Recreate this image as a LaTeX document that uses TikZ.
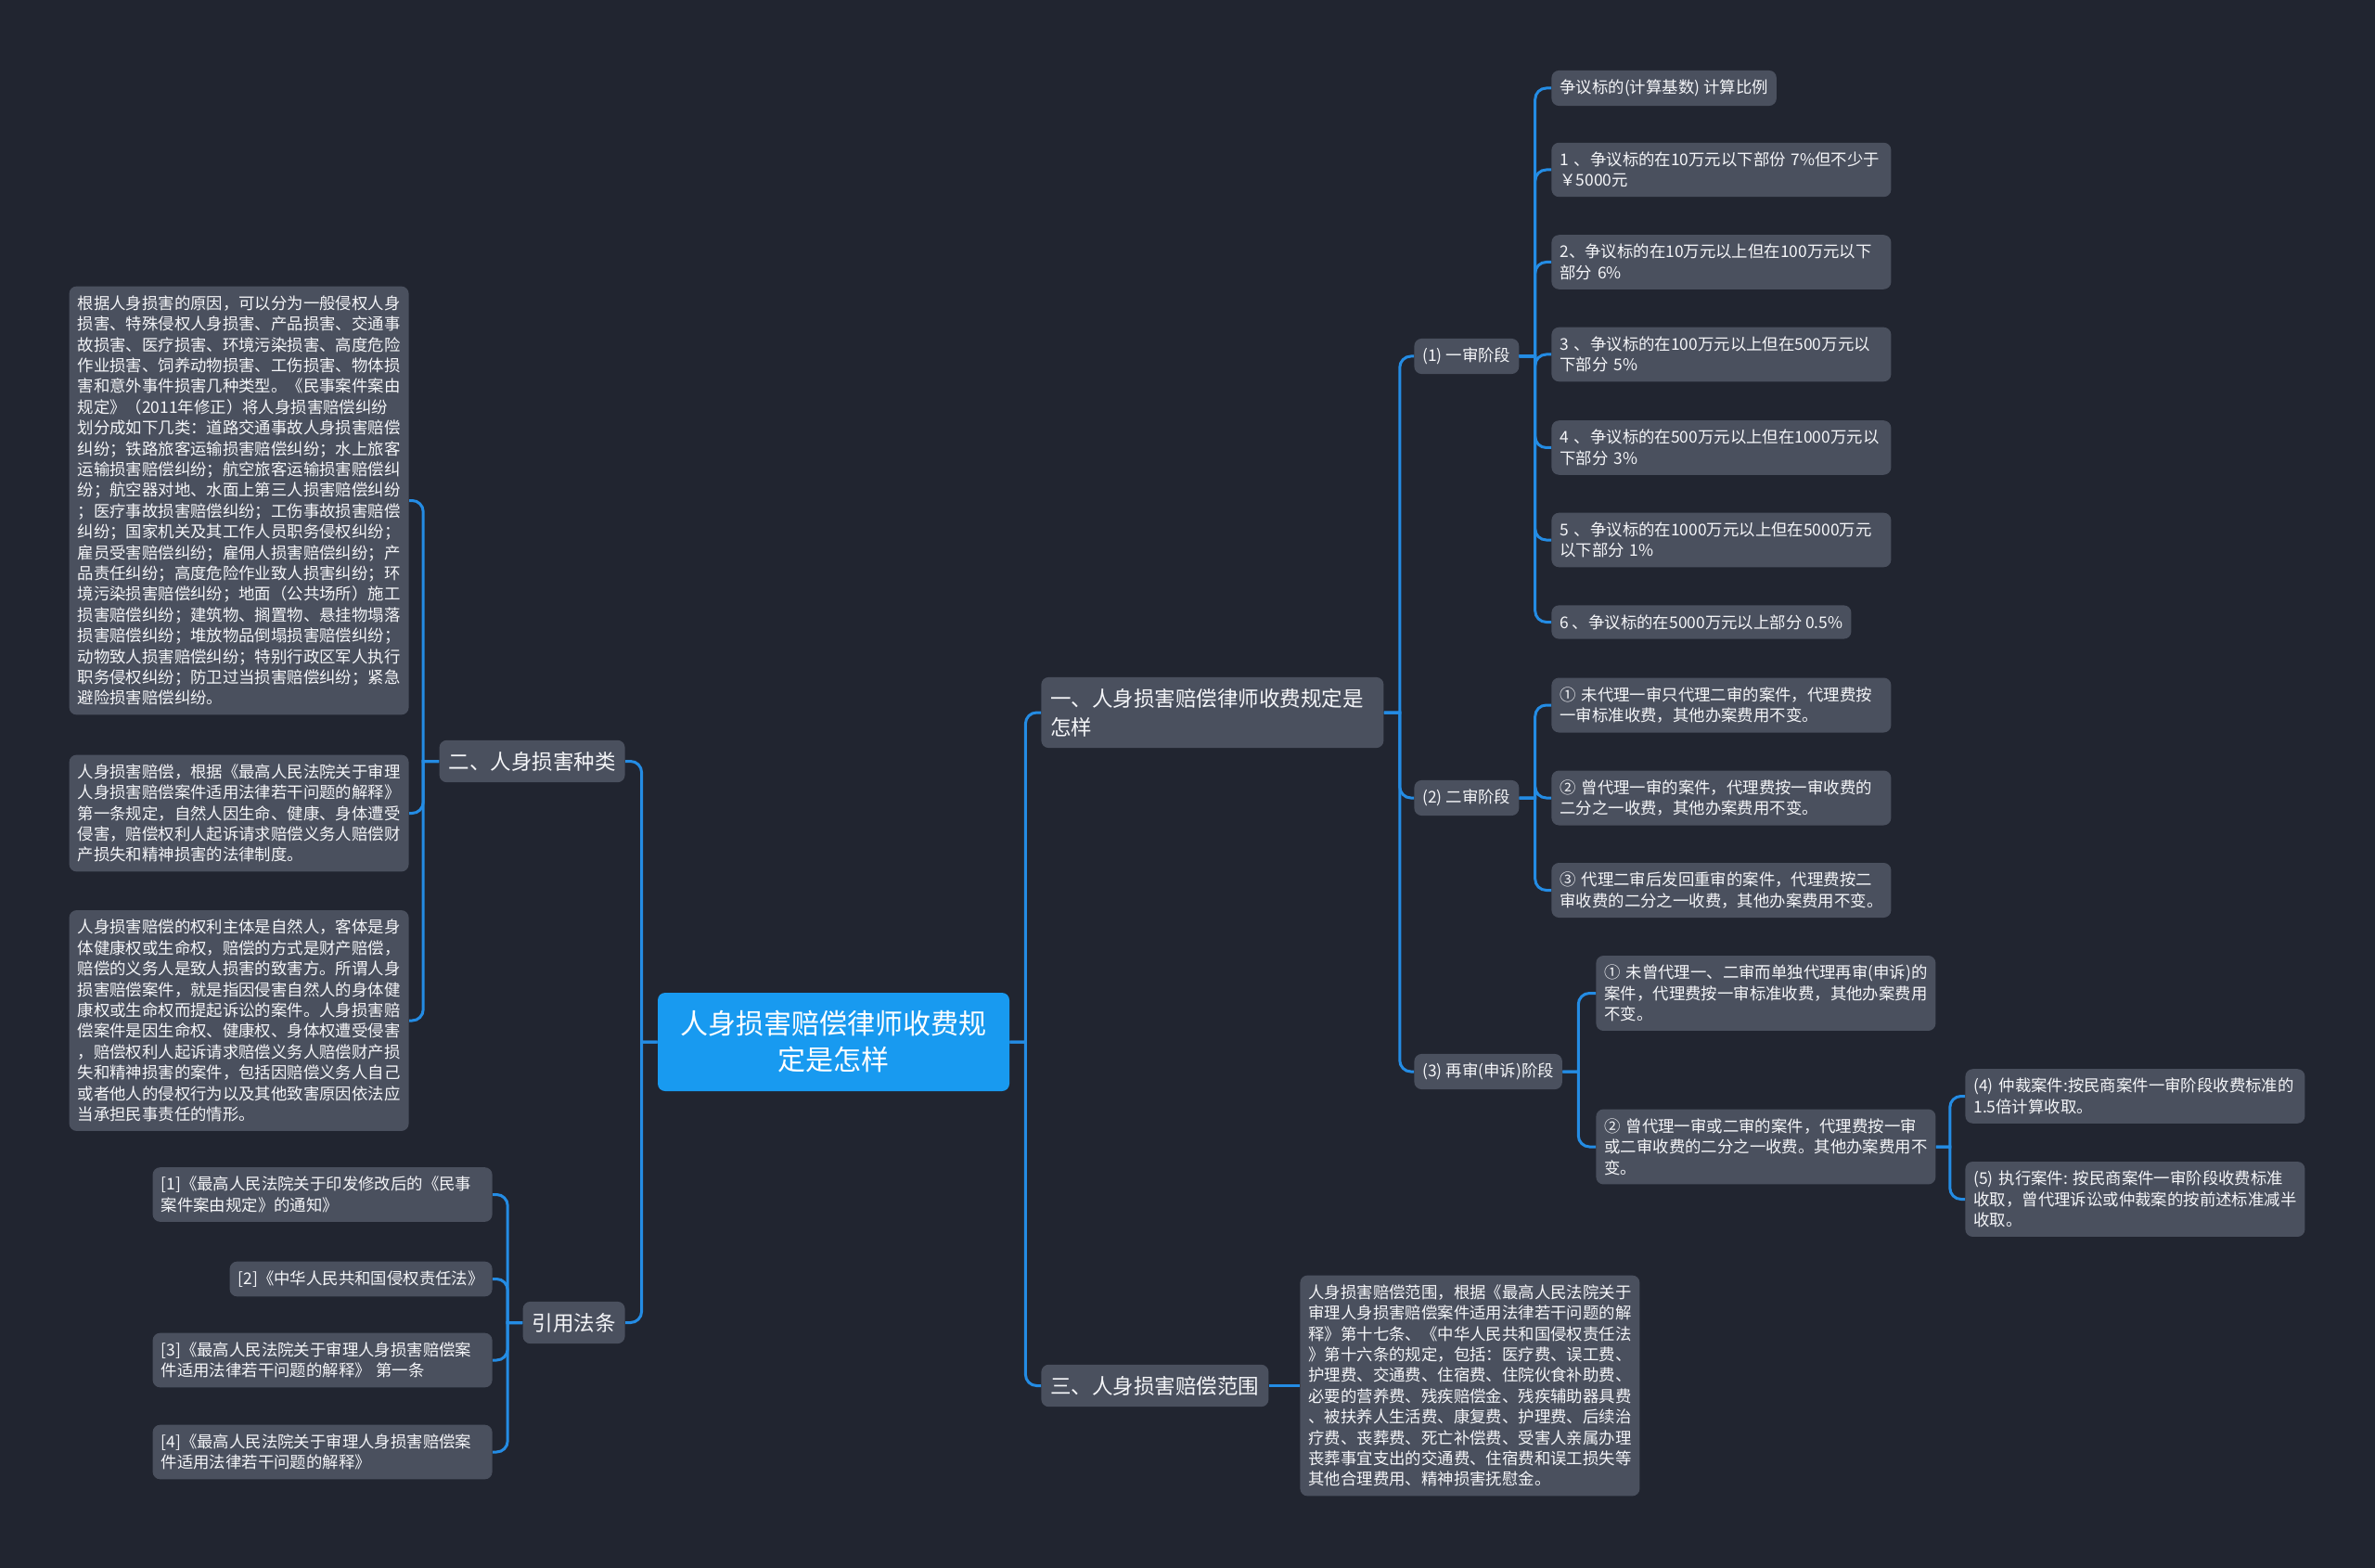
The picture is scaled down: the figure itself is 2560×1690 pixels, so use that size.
\documentclass[tikz,border=0pt]{standalone}
\usepackage{fontspec}
\setmainfont{Noto Sans CJK SC}
\definecolor{bgdark}{RGB}{33,37,48}
\definecolor{nodegray}{RGB}{74,80,94}
\definecolor{rootblue}{RGB}{24,154,240}
\definecolor{linkblue}{RGB}{36,140,228}
\definecolor{textwhite}{RGB}{244,245,248}
\tikzset{
  box/.style={fill=nodegray, rounded corners=4pt, text=textwhite, inner xsep=4.5pt, inner ysep=5pt,
    font=\fontsize{8.7pt}{11.2pt}\selectfont},
  leaf/.style={box, text width=174pt, align=left},
  branch/.style={box, inner xsep=5pt, inner ysep=6.1pt, font=\fontsize{11.25pt}{15.5pt}\selectfont},
  rootbox/.style={fill=rootblue, rounded corners=4pt, text=white, align=center, minimum width=189.5pt,
    minimum height=53pt, font=\fontsize{15pt}{19.5pt}\selectfont},
  link/.style={draw=linkblue, line width=1.5pt},
}
\begin{document}
\begin{tikzpicture}[x=0.5pt, y=-0.5pt]
        \fill[bgdark] (0,0) rectangle (2560,1690);
        %centre
        \node[rootbox] (root) at (898.5,1123) {人身损害赔偿律师收费规\\定是怎样};
        %branches
        \node[branch, anchor=west, text width=174.5pt, align=left] (fee) at (1122,768) {一、人身损害赔偿律师收费规定是\\怎样};
        \node[branch, anchor=west] (scope) at (1122,1493.5) {三、人身损害赔偿范围};
        \node[branch, anchor=east] (kinds) at (674,820.5) {二、人身损害种类};
        \node[branch, anchor=east] (laws) at (674,1425.5) {引用法条};
        %stages
        \node[box, anchor=west] (stageA) at (1524,384) {(1) 一审阶段};
        \node[box, anchor=west] (stageB) at (1524,860) {(2) 二审阶段};
        \node[box, anchor=west] (stageC) at (1524,1155) {(3) 再审(申诉)阶段};
        %first instance
        \node[box, anchor=west] (feeHead) at (1672,95) {争议标的(计算基数) 计算比例};
        \node[leaf, anchor=west] (feeA) at (1672,183) {1~、争议标的在10万元以下部份~7\%但不少于\\￥5000元};
        \node[leaf, anchor=west] (feeB) at (1672,282.5) {2、争议标的在10万元以上但在100万元以下\\部分~6\%};
        \node[leaf, anchor=west] (feeC) at (1672,382) {3~、争议标的在100万元以上但在500万元以\\下部分~5\%};
        \node[leaf, anchor=west] (feeD) at (1672,482.5) {4~、争议标的在500万元以上但在1000万元以\\下部分~3\%};
        \node[leaf, anchor=west] (feeE) at (1672,582) {5~、争议标的在1000万元以上但在5000万元\\以下部分~1\%};
        \node[box, anchor=west] (feeF) at (1672,670.5) {6~、争议标的在5000万元以上部分~0.5\%};
        %second instance
        \node[leaf, anchor=west] (secA) at (1672,760) {①~未代理一审只代理二审的案件，代理费按\\一审标准收费，其他办案费用不变。};
        \node[leaf, anchor=west] (secB) at (1672,860) {②~曾代理一审的案件，代理费按一审收费的\\二分之一收费，其他办案费用不变。};
        \node[leaf, anchor=west] (secC) at (1672,959.5) {③~代理二审后发回重审的案件，代理费按二\\审收费的二分之一收费，其他办案费用不变。};
        %retrial
        \node[leaf, anchor=west] (retA) at (1720,1070.5) {①~未曾代理一、二审而单独代理再审(申诉)的\\案件，代理费按一审标准收费，其他办案费用\\不变。};
        \node[leaf, anchor=west] (retB) at (1720,1236) {②~曾代理一审或二审的案件，代理费按一审\\或二审收费的二分之一收费。其他办案费用不\\变。};
        \node[leaf, anchor=west] (arbit) at (2118,1181.5) {(4)~仲裁案件:按民商案件一审阶段收费标准的\\1.5倍计算收取。};
        \node[leaf, anchor=west] (exec) at (2118,1292.5) {(5)~执行案件:~按民商案件一审阶段收费标准\\收取，曾代理诉讼或仲裁案的按前述标准减半\\收取。};
        %scope
        \node[leaf, anchor=west] (scopeText) at (1401,1493.5) {人身损害赔偿范围，根据《最高人民法院关于\\审理人身损害赔偿案件适用法律若干问题的解\\释》第十七条、《中华人民共和国侵权责任法\\》第十六条的规定，包括：医疗费、误工费、\\护理费、交通费、住宿费、住院伙食补助费、\\必要的营养费、残疾赔偿金、残疾辅助器具费\\、被扶养人生活费、康复费、护理费、后续治\\疗费、丧葬费、死亡补偿费、受害人亲属办理\\丧葬事宜支出的交通费、住宿费和误工损失等\\其他合理费用、精神损害抚慰金。};
        %kinds
        \node[leaf, anchor=east] (kindA) at (441,539.5) {根据人身损害的原因，可以分为一般侵权人身\\损害、特殊侵权人身损害、产品损害、交通事\\故损害、医疗损害、环境污染损害、高度危险\\作业损害、饲养动物损害、工伤损害、物体损\\害和意外事件损害几种类型。《民事案件案由\\规定》（2011年修正）将人身损害赔偿纠纷\\划分成如下几类：道路交通事故人身损害赔偿\\纠纷；铁路旅客运输损害赔偿纠纷；水上旅客\\运输损害赔偿纠纷；航空旅客运输损害赔偿纠\\纷；航空器对地、水面上第三人损害赔偿纠纷\\；医疗事故损害赔偿纠纷；工伤事故损害赔偿\\纠纷；国家机关及其工作人员职务侵权纠纷；\\雇员受害赔偿纠纷；雇佣人损害赔偿纠纷；产\\品责任纠纷；高度危险作业致人损害纠纷；环\\境污染损害赔偿纠纷；地面（公共场所）施工\\损害赔偿纠纷；建筑物、搁置物、悬挂物塌落\\损害赔偿纠纷；堆放物品倒塌损害赔偿纠纷；\\动物致人损害赔偿纠纷；特别行政区军人执行\\职务侵权纠纷；防卫过当损害赔偿纠纷；紧急\\避险损害赔偿纠纷。};
        \node[leaf, anchor=east] (kindB) at (441,876.5) {人身损害赔偿，根据《最高人民法院关于审理\\人身损害赔偿案件适用法律若干问题的解释》\\第一条规定，自然人因生命、健康、身体遭受\\侵害，赔偿权利人起诉请求赔偿义务人赔偿财\\产损失和精神损害的法律制度。};
        \node[leaf, anchor=east] (kindC) at (441,1100) {人身损害赔偿的权利主体是自然人，客体是身\\体健康权或生命权，赔偿的方式是财产赔偿，\\赔偿的义务人是致人损害的致害方。所谓人身\\损害赔偿案件，就是指因侵害自然人的身体健\\康权或生命权而提起诉讼的案件。人身损害赔\\偿案件是因生命权、健康权、身体权遭受侵害\\，赔偿权利人起诉请求赔偿义务人赔偿财产损\\失和精神损害的案件，包括因赔偿义务人自己\\或者他人的侵权行为以及其他致害原因依法应\\当承担民事责任的情形。};
        %laws
        \node[leaf, anchor=east] (lawA) at (531,1287.5) {[1]《最高人民法院关于印发修改后的《民事\\案件案由规定》的通知》};
        \node[box, anchor=east] (lawB) at (531,1378.5) {[2]《中华人民共和国侵权责任法》};
        \node[leaf, anchor=east] (lawC) at (531,1466) {[3]《最高人民法院关于审理人身损害赔偿案\\件适用法律若干问题的解释》~第一条};
        \node[leaf, anchor=east] (lawD) at (531,1565) {[4]《最高人民法院关于审理人身损害赔偿案\\件适用法律若干问题的解释》};

        %links right
        \foreach \c in {fee,scope}
            \draw[link] (root.east) -- ++(17,0) [rounded corners=6pt] |- (\c.west);
        \foreach \c in {stageA,stageB,stageC}
            \draw[link] (fee.east) -- ++(17,0) [rounded corners=6pt] |- (\c.west);
        \foreach \c in {feeHead,feeA,feeB,feeC,feeD,feeE,feeF}
            \draw[link] (stageA.east) -- ++(17,0) [rounded corners=6pt] |- (\c.west);
        \foreach \c in {secA,secB,secC}
            \draw[link] (stageB.east) -- ++(17,0) [rounded corners=6pt] |- (\c.west);
        \foreach \c in {retA,retB}
            \draw[link] (stageC.east) -- ++(17,0) [rounded corners=6pt] |- (\c.west);
        \foreach \c in {arbit,exec}
            \draw[link] (retB.east) -- ++(15,0) [rounded corners=6pt] |- (\c.west);
        \draw[link] (scope.east) -- (scopeText.west);
        %links left
        \foreach \c in {kinds,laws}
            \draw[link] (root.west) -- ++(-17,0) [rounded corners=6pt] |- (\c.east);
        \foreach \c in {kindA,kindB,kindC}
            \draw[link] (kinds.west) -- ++(-17,0) [rounded corners=6pt] |- (\c.east);
        \foreach \c in {lawA,lawB,lawC,lawD}
            \draw[link] (laws.west) -- ++(-16,0) [rounded corners=6pt] |- (\c.east);
\end{tikzpicture}
\end{document}
